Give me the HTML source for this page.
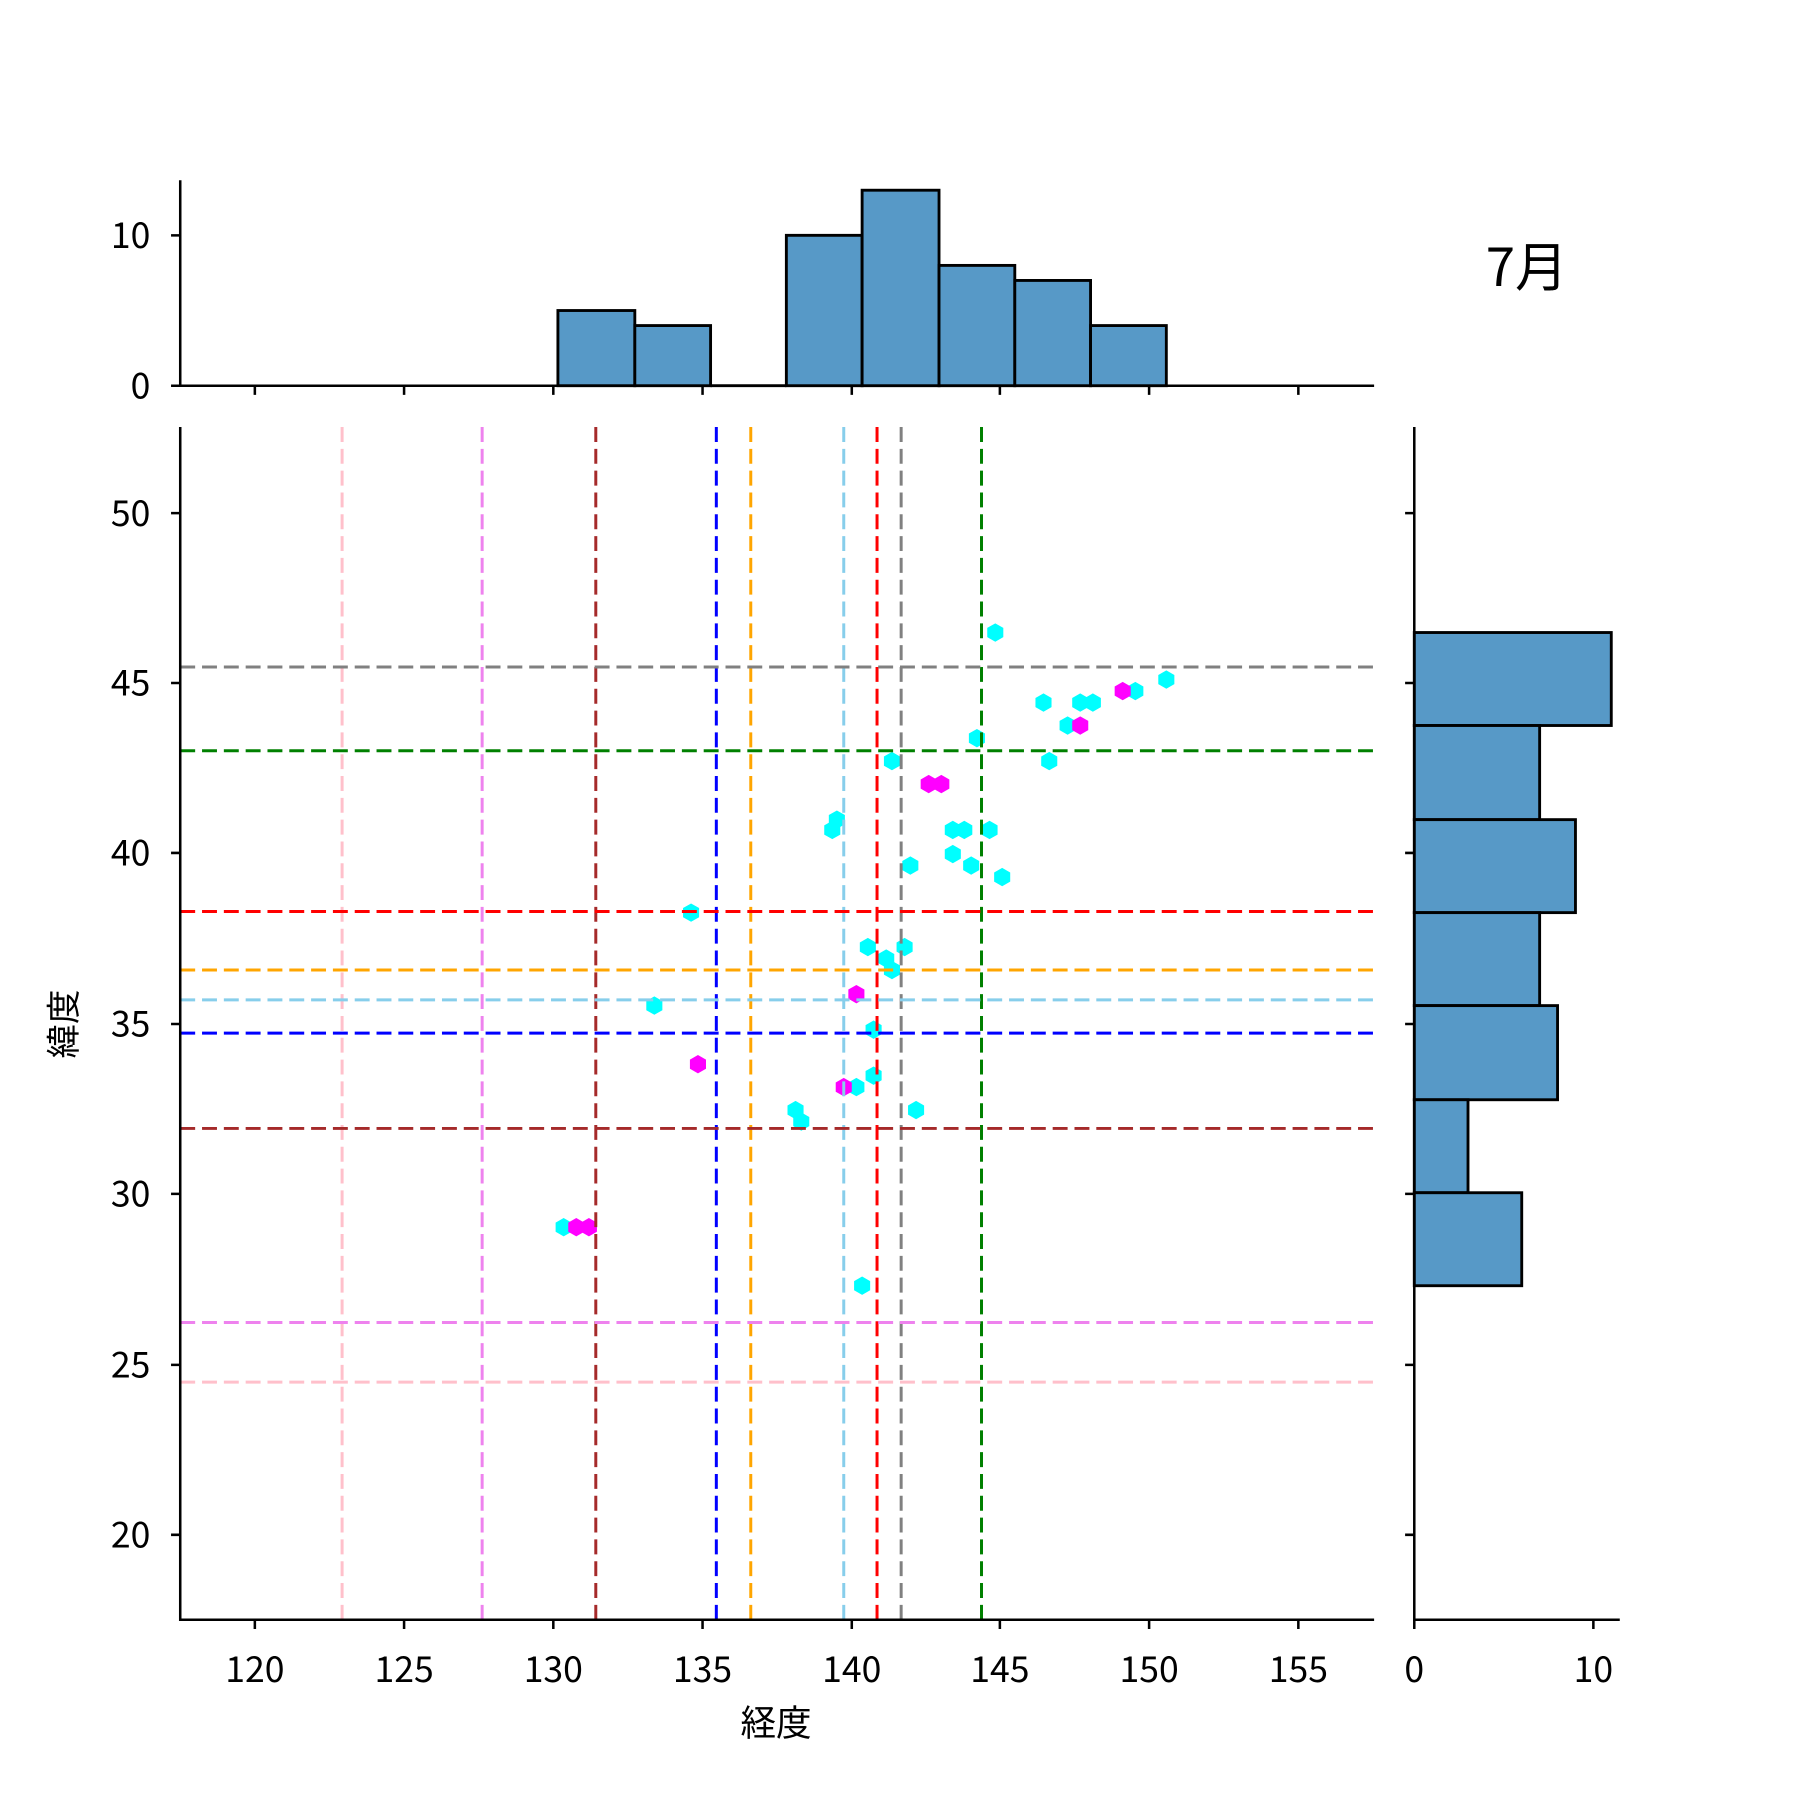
<!DOCTYPE html>
<html><head><meta charset="utf-8"><style>html,body{margin:0;padding:0;background:#fff}svg{display:block}</style></head><body>
<svg width="1800" height="1800" viewBox="0 0 1568 1568" xmlns="http://www.w3.org/2000/svg" font-family="'Noto Sans CJK JP','Liberation Sans',sans-serif">
<defs><polygon id="h" points="0,-8 7,-4 7,4 0,8 -7,4 -7,-4"/></defs>
<g fill="#5799c7" stroke="#000" stroke-width="2.5">
<rect x="486" y="270.5" width="67" height="65.5"/>
<rect x="553" y="283.6" width="66" height="52.4"/>
<rect x="685" y="205" width="66" height="131"/>
<rect x="751" y="165.7" width="67" height="170.3"/>
<rect x="818" y="231.2" width="66" height="104.8"/>
<rect x="884" y="244.3" width="66" height="91.7"/>
<rect x="950" y="283.6" width="66" height="52.4"/>
<line x1="619" y1="336" x2="685" y2="336"/>
</g>
<g fill="#5799c7" stroke="#000" stroke-width="2.5">
<rect x="1232" y="551" width="171.6" height="81"/>
<rect x="1232" y="632" width="109.2" height="82"/>
<rect x="1232" y="714" width="140.4" height="81"/>
<rect x="1232" y="795" width="109.2" height="81"/>
<rect x="1232" y="876" width="124.8" height="82"/>
<rect x="1232" y="958" width="46.8" height="81"/>
<rect x="1232" y="1039" width="93.6" height="81"/>
</g>
<g fill="#00ffff">
<use href="#h" x="867" y="551"/><use href="#h" x="1016" y="592"/><use href="#h" x="989" y="602"/><use href="#h" x="909" y="612"/><use href="#h" x="941" y="612"/><use href="#h" x="952" y="612"/><use href="#h" x="930" y="632"/><use href="#h" x="851" y="643"/><use href="#h" x="777" y="663"/><use href="#h" x="914" y="663"/><use href="#h" x="830" y="723"/><use href="#h" x="840" y="723"/><use href="#h" x="862" y="723"/><use href="#h" x="729" y="714"/><use href="#h" x="725" y="723"/><use href="#h" x="793" y="754"/><use href="#h" x="830" y="744"/><use href="#h" x="846" y="754"/><use href="#h" x="873" y="764"/><use href="#h" x="602" y="795"/><use href="#h" x="756" y="825"/><use href="#h" x="788" y="825"/><use href="#h" x="772" y="835"/><use href="#h" x="777" y="845"/><use href="#h" x="570" y="876"/><use href="#h" x="761" y="897"/><use href="#h" x="761" y="937"/><use href="#h" x="746" y="947"/><use href="#h" x="693" y="967"/><use href="#h" x="698" y="977"/><use href="#h" x="798" y="967"/><use href="#h" x="491" y="1069"/><use href="#h" x="751" y="1120"/>
</g>
<g fill="#ff00ff">
<use href="#h" x="978" y="602"/><use href="#h" x="941" y="632"/><use href="#h" x="809" y="683"/><use href="#h" x="820" y="683"/><use href="#h" x="746" y="866"/><use href="#h" x="608" y="927"/><use href="#h" x="735" y="947"/><use href="#h" x="502" y="1069"/><use href="#h" x="513" y="1069"/>
</g>
<g stroke-width="2.6" stroke-dasharray="13 6" fill="none">
<line x1="298" y1="372" x2="298" y2="1411" stroke="pink"/>
<line x1="420" y1="372" x2="420" y2="1411" stroke="violet"/>
<line x1="519" y1="372" x2="519" y2="1411" stroke="brown"/>
<line x1="624" y1="372" x2="624" y2="1411" stroke="blue"/>
<line x1="654" y1="372" x2="654" y2="1411" stroke="orange"/>
<line x1="735" y1="372" x2="735" y2="1411" stroke="skyblue"/>
<line x1="764" y1="372" x2="764" y2="1411" stroke="red"/>
<line x1="785" y1="372" x2="785" y2="1411" stroke="gray"/>
<line x1="855" y1="372" x2="855" y2="1411" stroke="green"/>
<line x1="157" y1="581" x2="1197" y2="581" stroke="gray"/>
<line x1="157" y1="654" x2="1197" y2="654" stroke="green"/>
<line x1="157" y1="794" x2="1197" y2="794" stroke="red"/>
<line x1="157" y1="845" x2="1197" y2="845" stroke="orange"/>
<line x1="157" y1="871" x2="1197" y2="871" stroke="skyblue"/>
<line x1="157" y1="900" x2="1197" y2="900" stroke="blue"/>
<line x1="157" y1="983" x2="1197" y2="983" stroke="brown"/>
<line x1="157" y1="1152" x2="1197" y2="1152" stroke="violet"/>
<line x1="157" y1="1204" x2="1197" y2="1204" stroke="pink"/>
</g>
<g stroke="#000" stroke-width="2.2" fill="none">
<path d="M157 372 V1411 H1197"/>
<path d="M157 157 V336 H1197"/>
<path d="M1232 372 V1411 H1411"/>
<path d="M222 1411v8M352 1411v8M482 1411v8M612 1411v8M742 1411v8M871 1411v8M1001 1411v8M1131 1411v8"/>
<path d="M222 336v8M352 336v8M482 336v8M612 336v8M742 336v8M871 336v8M1001 336v8M1131 336v8"/>
<path d="M157 447h-8M157 595h-8M157 743h-8M157 892h-8M157 1040h-8M157 1189h-8M157 1337h-8"/>
<path d="M1232 447h-8M1232 595h-8M1232 743h-8M1232 892h-8M1232 1040h-8M1232 1189h-8M1232 1337h-8"/>
<path d="M157 205h-8M157 336h-8"/>
<path d="M1232 1411v8M1388 1411v8"/>
</g>
<g font-size="31" fill="#000" text-anchor="middle">
<text x="222" y="1465">120</text><text x="352" y="1465">125</text><text x="482" y="1465">130</text><text x="612" y="1465">135</text><text x="742" y="1465">140</text><text x="871" y="1465">145</text><text x="1001" y="1465">150</text><text x="1131" y="1465">155</text>
<text x="1232" y="1465">0</text><text x="1388" y="1465">10</text>
<text x="676" y="1512">経度</text>
</g>
<g font-size="31" fill="#000" text-anchor="end">
<text x="131" y="458">50</text><text x="131" y="606">45</text><text x="131" y="754">40</text><text x="131" y="903">35</text><text x="131" y="1051">30</text><text x="131" y="1200">25</text><text x="131" y="1348">20</text>
<text x="131" y="216">10</text><text x="131" y="347">0</text>
</g>
<text transform="translate(66,892) rotate(-90)" font-size="30" text-anchor="middle">緯度</text>
<text x="1330" y="249" font-size="46" text-anchor="middle">7月</text>
</svg>
</body></html>
